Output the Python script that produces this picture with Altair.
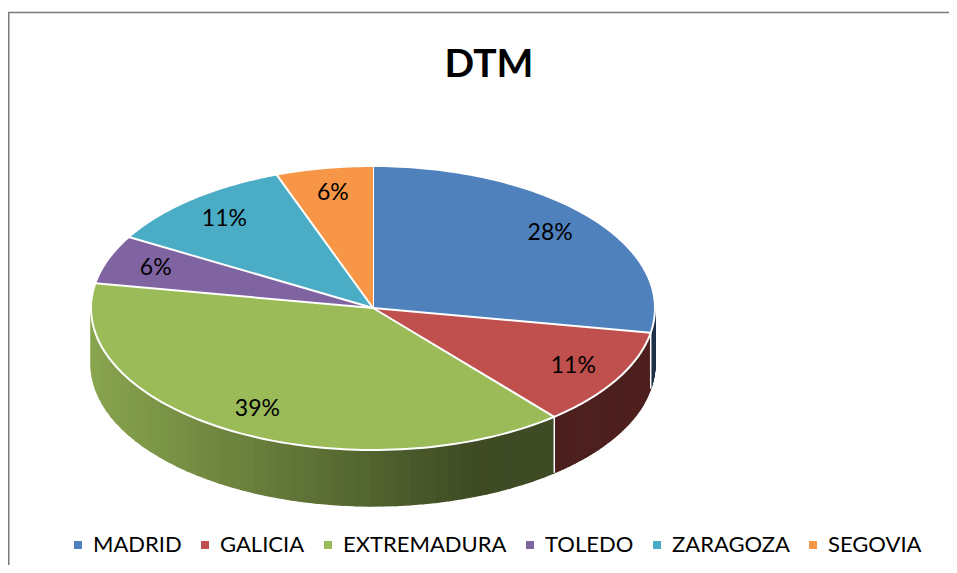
import altair as alt
import pandas as pd

# ---- data ----
regions = ["MADRID", "GALICIA", "EXTREMADURA", "TOLEDO", "ZARAGOZA", "SEGOVIA"]
values = [5, 2, 7, 1, 2, 1]
palette = ["#4f81bd", "#c0504d", "#9bbb59", "#8064a2", "#4bacc6", "#f79646"]
chart_title = "DTM"

# ---- geometry / style constants ----
W, H = 941, 557
CX, CY = 365, 300          # pie centre in chart pixels
R = 282                    # horizontal radius in pixels
TILT = 142 / 282
DEPTH = 56 / 282
LABEL_R = 0.82
N = 90                     # points per top arc
M = 48                     # shading strips per wall

df = pd.DataFrame({"region": regions, "value": values, "idx": list(range(len(regions)))})
pal_df = pd.DataFrame({"region": regions, "hex": palette})

xs = alt.Scale(domain=[-CX / R, (W - CX) / R], nice=False, zero=False)
ys = alt.Scale(domain=[-(H - CY) / R, CY / R], nice=False, zero=False)

base = (
    alt.Chart(df)
    .transform_joinaggregate(total="sum(value)")
    .transform_window(cum="sum(value)", sort=[alt.SortField("idx")], frame=[None, 0])
    .transform_calculate(a1="2*PI*datum.cum/datum.total")
    .transform_calculate(a0="datum.a1 - 2*PI*datum.value/datum.total")
)

# ---- side walls (front half), shaded strips ----
wall_data = (
    base.transform_calculate(s="max(datum.a0, PI/2)", e="min(datum.a1, 3*PI/2)")
    .transform_filter("datum.s < datum.e")
    .transform_calculate(ms=f"sequence(0, {M})")
    .transform_flatten(["ms"], as_=["m"])
    .transform_calculate(cs="sequence(0, 5)")
    .transform_flatten(["cs"], as_=["c"])
    .transform_calculate(
        tt=f"datum.s + (datum.e-datum.s)*(datum.m + ((datum.c==1||datum.c==2)?1:0))/{M}",
        tm=f"datum.s + (datum.e-datum.s)*(datum.m+0.5)/{M}",
    )
    .transform_calculate(
        px="sin(datum.tt)",
        py=f"{TILT}*cos(datum.tt) - ((datum.c==2||datum.c==3) ? {DEPTH} : 0)",
        shade="1 - min(0.6, 0.12 + 0.354*(sin(datum.tm)+1))",
    )
    .transform_lookup(lookup="region", from_=alt.LookupData(pal_df, "region", ["hex"]))
    .transform_calculate(
        col="'rgb(' + round(rgb(datum.hex).r*datum.shade) + ',' + round(rgb(datum.hex).g*datum.shade) + ',' + round(rgb(datum.hex).b*datum.shade) + ')'"
    )
)
wall_enc = dict(
    x=alt.X("px:Q", scale=xs, axis=None),
    y=alt.Y("py:Q", scale=ys, axis=None),
    order="c:Q",
    detail=["region:N", "m:Q"],
)
walls_fill = wall_data.mark_line(filled=True, strokeWidth=0).encode(
    fill=alt.Fill("col:N", scale=None), **wall_enc
)
walls_edge = wall_data.mark_line(strokeWidth=1.3, strokeJoin="miter").encode(
    stroke=alt.Stroke("col:N", scale=None), **wall_enc
)

# ---- white separators on the walls ----
seps = (
    base.transform_filter("datum.a1 > PI/2 && datum.a1 < 3*PI/2")
    .transform_calculate(
        px="sin(datum.a1)",
        py=f"{TILT}*cos(datum.a1)",
        py2=f"{TILT}*cos(datum.a1) - {DEPTH}",
    )
    .mark_rule(color="white", strokeWidth=1.5)
    .encode(x=alt.X("px:Q", scale=xs, axis=None), y=alt.Y("py:Q", scale=ys, axis=None), y2="py2:Q")
)

# ---- top faces ----
top = (
    base.transform_calculate(ks=f"sequence(-1, {N + 1})")
    .transform_flatten(["ks"], as_=["k"])
    .transform_calculate(t=f"datum.a0 + (datum.a1-datum.a0)*max(datum.k,0)/{N}")
    .transform_calculate(
        px="datum.k < 0 ? 0 : sin(datum.t)",
        py=f"datum.k < 0 ? 0 : {TILT}*cos(datum.t)",
    )
    .mark_line(filled=True, stroke="white", strokeWidth=2, strokeJoin="round")
    .encode(
        x=alt.X("px:Q", scale=xs, axis=None),
        y=alt.Y("py:Q", scale=ys, axis=None),
        order="k:Q",
        color=alt.Color(
            "region:N",
            scale=alt.Scale(domain=regions, range=palette),
            sort=regions,
            legend=alt.Legend(
                title=None,
                orient="none",
                legendX=59,
                legendY=526,
                direction="horizontal",
                columns=6,
                columnPadding=12,
                symbolType="square",
                symbolSize=64,
                symbolStrokeWidth=0,
                labelOffset=4,
                labelFont="Lato",
                labelFontSize=22,
                labelColor="black",
                labelLimit=0,
            ),
        ),
    )
)

# ---- percentage labels ----
labels = (
    base.transform_calculate(mid="(datum.a0+datum.a1)/2")
    .transform_calculate(
        px=f"{LABEL_R}*sin(datum.mid)",
        py=f"{LABEL_R}*{TILT}*cos(datum.mid)",
        pct="format(datum.value/datum.total, '.0%')",
    )
    .mark_text(font="Lato", fontSize=23, color="black")
    .encode(x=alt.X("px:Q", scale=xs, axis=None), y=alt.Y("py:Q", scale=ys, axis=None), text="pct:N")
)

one = pd.DataFrame({"title": [chart_title]})
title = (
    alt.Chart(one)
    .mark_text(font="Lato", fontSize=39, fontWeight="bold", color="black", baseline="alphabetic")
    .encode(x=alt.value(481), y=alt.value(69), text="title:N")
)
border_top = alt.Chart(one).mark_rule(color="#7a7a7a", strokeWidth=1.5).encode(
    x=alt.value(0), x2=alt.value(W), y=alt.value(4.5)
)
border_left = alt.Chart(one).mark_rule(color="#7a7a7a", strokeWidth=1.5).encode(
    x=alt.value(0.75), y=alt.value(4.5), y2=alt.value(H)
)

chart = (
    alt.layer(walls_fill, walls_edge, seps, top, labels, title, border_top, border_left)
    .properties(width=W, height=H, padding=0, autosize="none", background="white")
    .configure_view(stroke=None)
)

chart.save("out.html", embed_options={"renderer": "svg", "actions": False})
